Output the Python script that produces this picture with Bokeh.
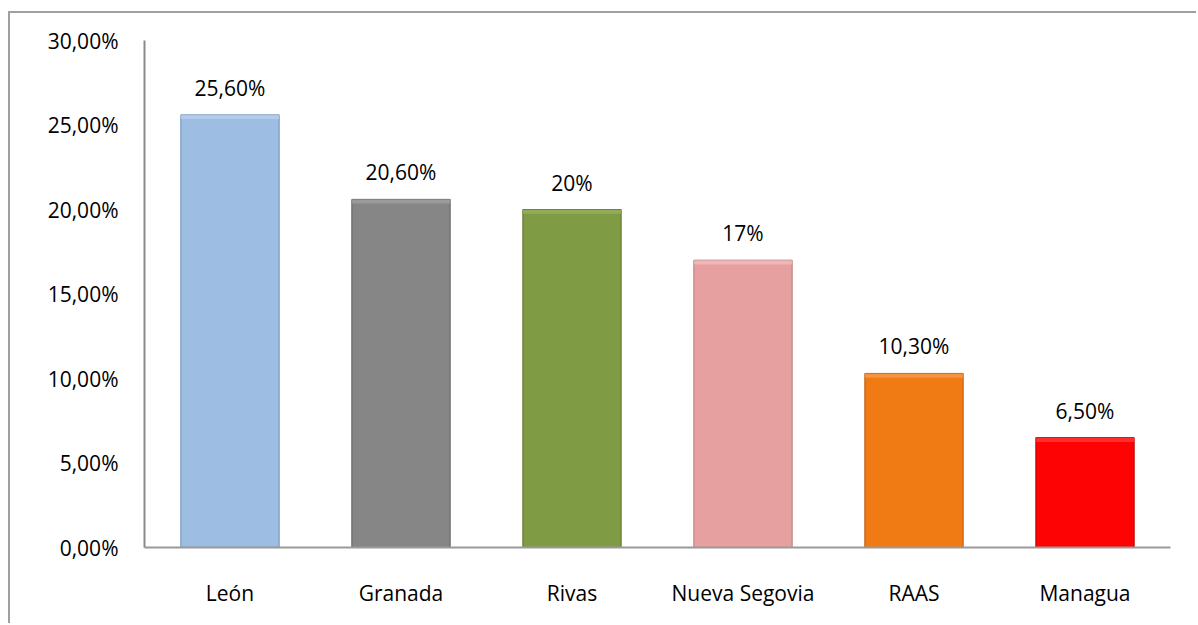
from bokeh.plotting import figure
from bokeh.models import ColumnDataSource, FactorRange, FixedTicker, CustomJSTickFormatter, Range1d
from bokeh.embed import file_html
from bokeh.resources import INLINE
from bokeh.core.properties import value

categories = ["León", "Granada", "Rivas", "Nueva Segovia", "RAAS", "Managua"]
values = [25.6, 20.6, 20.0, 17.0, 10.3, 6.5]
value_labels = ["25,60%", "20,60%", "20%", "17%", "10,30%", "6,50%"]
colors = ["#9dbde3", "#868686", "#7f9c44", "#e5a09f", "#f07a14", "#fe0303"]
edge_colors = ["#6f8fb8", "#5e5e5e", "#5a7330", "#b87c7b", "#b85a0c", "#b80000"]
top_colors = ["#c3d6ee", "#a8a8a8", "#9db868", "#f3c6c5", "#f6a55c", "#ff4a4a"]
y_ticks = [0, 5, 10, 15, 20, 25, 30]

FONT = "Open Sans"

src = ColumnDataSource(dict(
    cat=categories, val=values, lab=value_labels,
    col=colors, edge=edge_colors, topc=top_colors,
    topb=[v - 0.25 for v in values],
))

p = figure(
    x_range=FactorRange(*categories, range_padding=0),
    y_range=Range1d(0, 30),
    width=1188, height=612,
    output_backend="svg", toolbar_location=None,
    min_border_left=134, min_border_right=28,
    min_border_top=27, min_border_bottom=78,
)
p.margin = (11, 0, 0, 8)
p.styles = {"border-left": "2px solid #a0a0a0", "border-top": "2px solid #a0a0a0"}

p.vbar(x="cat", top="val", bottom=0, width=0.575, source=src,
       fill_color="col", line_color="edge", line_width=1)
p.vbar(x="cat", top="val", bottom="topb", width=0.575, source=src,
       fill_color="topc", line_color=None, fill_alpha=0.6)

p.text(x="cat", y="val", text="lab", source=src,
       text_align="center", text_baseline="bottom", y_offset=-13,
       text_font=value(FONT), text_font_size="21px", text_color="#000000")

p.outline_line_color = None
p.grid.visible = False

p.yaxis.ticker = FixedTicker(ticks=y_ticks)
p.yaxis.formatter = CustomJSTickFormatter(code="return tick.toFixed(2).replace('.', ',') + '%';")
p.yaxis.major_tick_line_color = None
p.yaxis.minor_tick_line_color = None
p.yaxis.axis_line_color = "#8a8a8a"
p.yaxis.axis_line_width = 2
p.yaxis.major_label_standoff = 20
p.yaxis.major_label_text_font = FONT
p.yaxis.major_label_text_font_size = "21px"
p.yaxis.major_label_text_color = "#000000"

p.xaxis.major_tick_line_color = None
p.xaxis.minor_tick_line_color = None
p.xaxis.axis_line_color = "#9a9a9a"
p.xaxis.axis_line_width = 2
p.xaxis.major_label_standoff = 25
p.xaxis.major_label_text_font = FONT
p.xaxis.major_label_text_font_size = "21px"
p.xaxis.major_label_text_color = "#000000"

p.background_fill_color = "white"
p.border_fill_color = "white"

open("out.html", "w").write(file_html(p, INLINE))
